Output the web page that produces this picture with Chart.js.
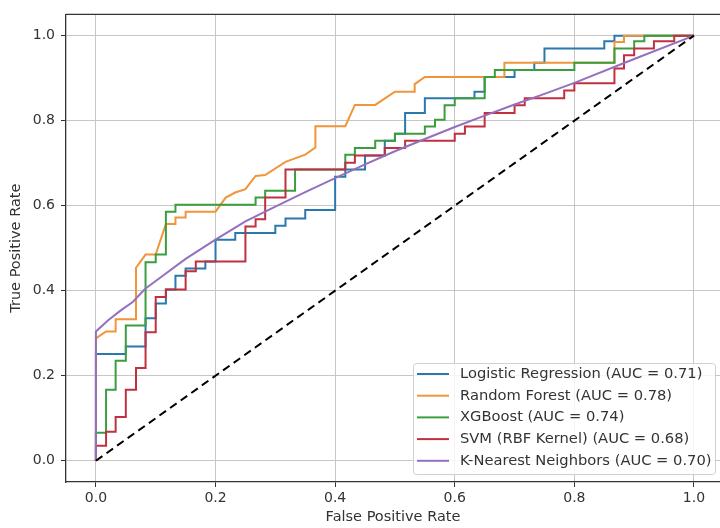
<!DOCTYPE html>
<html>
<head>
<meta charset="utf-8">
<script src="https://cdn.jsdelivr.net/npm/chart.js@4.4.1/dist/chart.umd.min.js"></script>
<style>
  html, body { margin: 0; padding: 0; background: #fff; overflow: hidden; }
  #wrap { width: 720px; height: 528px; }
</style>
</head>
<body>
<div id="wrap"><canvas id="rocChart" width="720" height="528"></canvas></div>
<script>
// Legend names and AUC values
var modelNames = ['Logistic Regression', 'Random Forest', 'XGBoost', 'SVM (RBF Kernel)', 'K-Nearest Neighbors'];
var aucScores = [0.71, 0.78, 0.74, 0.68, 0.70];
var lineColors = ['#2a78ae', '#f0953a', '#3a9e3e', '#c0303f', '#9470be'];

var tickValues = [0, 0.2, 0.4, 0.6, 0.8, 1.0];

// ROC points as [fpr, tpr]
var logRegRoc = [[0,0],[0,0.251],[0.05,0.251],[0.05,0.269],[0.083,0.269],[0.083,0.335],[0.1,0.335],[0.1,0.37],
  [0.117,0.37],[0.117,0.403],[0.133,0.403],[0.133,0.435],[0.15,0.435],[0.15,0.452],[0.183,0.452],[0.183,0.469],
  [0.2,0.469],[0.2,0.52],[0.233,0.52],[0.233,0.536],[0.3,0.536],[0.3,0.553],[0.317,0.553],[0.317,0.57],
  [0.35,0.57],[0.35,0.59],[0.4,0.59],[0.4,0.668],[0.417,0.668],[0.417,0.685],[0.45,0.685],[0.45,0.718],
  [0.483,0.718],[0.483,0.753],[0.5,0.753],[0.5,0.769],[0.517,0.769],[0.517,0.818],[0.55,0.818],[0.55,0.853],
  [0.633,0.853],[0.633,0.868],[0.65,0.868],[0.65,0.903],[0.7,0.903],[0.7,0.919],[0.733,0.919],[0.733,0.936],
  [0.75,0.936],[0.75,0.97],[0.85,0.97],[0.85,0.987],[0.867,0.987],[0.867,1],[1,1]];

var randForestRoc = [[0,0],[0,0.288],[0.017,0.304],[0.033,0.304],[0.033,0.333],[0.067,0.333],[0.067,0.454],
  [0.083,0.485],[0.1,0.485],[0.117,0.557],[0.133,0.557],[0.133,0.572],[0.15,0.572],[0.15,0.586],[0.2,0.586],
  [0.217,0.619],[0.233,0.631],[0.25,0.639],[0.267,0.67],[0.283,0.672],[0.317,0.703],[0.35,0.72],[0.367,0.737],
  [0.367,0.787],[0.417,0.787],[0.433,0.837],[0.467,0.837],[0.5,0.868],[0.533,0.868],[0.533,0.886],[0.55,0.903],
  [0.683,0.903],[0.683,0.936],[0.867,0.936],[0.867,0.985],[0.883,0.985],[0.883,1],[1,1]];

var xgbRoc = [[0,0],[0,0.066],[0.017,0.066],[0.017,0.167],[0.033,0.167],[0.033,0.235],[0.05,0.235],[0.05,0.318],
  [0.083,0.318],[0.083,0.467],[0.1,0.467],[0.1,0.485],[0.117,0.485],[0.117,0.586],[0.133,0.586],[0.133,0.602],
  [0.267,0.602],[0.267,0.619],[0.283,0.619],[0.283,0.635],[0.333,0.635],[0.333,0.685],[0.417,0.685],[0.417,0.72],
  [0.433,0.72],[0.433,0.736],[0.467,0.736],[0.467,0.753],[0.5,0.753],[0.5,0.769],[0.55,0.769],[0.55,0.786],
  [0.567,0.786],[0.567,0.802],[0.583,0.802],[0.583,0.836],[0.6,0.836],[0.6,0.853],[0.65,0.853],[0.65,0.903],
  [0.667,0.903],[0.667,0.919],[0.8,0.919],[0.8,0.936],[0.867,0.936],[0.867,0.97],[0.9,0.97],[0.9,0.987],
  [0.917,0.987],[0.917,1],[1,1]];

var svmRoc = [[0,0],[0,0.035],[0.017,0.035],[0.017,0.068],[0.033,0.068],[0.033,0.103],[0.05,0.103],[0.05,0.167],
  [0.067,0.167],[0.067,0.218],[0.083,0.218],[0.083,0.302],[0.1,0.302],[0.1,0.385],[0.117,0.385],[0.117,0.403],
  [0.15,0.403],[0.15,0.446],[0.167,0.446],[0.167,0.469],[0.25,0.469],[0.25,0.551],[0.267,0.551],[0.267,0.568],
  [0.283,0.568],[0.283,0.619],[0.317,0.619],[0.317,0.685],[0.417,0.685],[0.417,0.701],[0.433,0.701],[0.433,0.718],
  [0.483,0.718],[0.483,0.736],[0.517,0.736],[0.517,0.753],[0.6,0.753],[0.6,0.769],[0.617,0.769],[0.617,0.786],
  [0.65,0.786],[0.65,0.818],[0.7,0.818],[0.7,0.836],[0.717,0.836],[0.717,0.853],[0.783,0.853],[0.783,0.871],
  [0.8,0.871],[0.8,0.888],[0.867,0.888],[0.867,0.923],[0.883,0.923],[0.883,0.954],[0.9,0.954],[0.9,0.97],
  [0.933,0.97],[0.933,0.987],[0.967,0.987],[0.967,1],[1,1]];

var knnRoc = [[0,0],[0,0.304],[0.02,0.33],[0.04,0.352],[0.062,0.374],[0.082,0.404],[0.1,0.423],[0.15,0.475],
  [0.2,0.52],[0.25,0.563],[0.3,0.598],[0.35,0.632],[0.4,0.665],[0.45,0.697],[0.5,0.728],[0.55,0.757],
  [0.6,0.785],[0.65,0.812],[0.7,0.838],[0.75,0.863],[0.8,0.889],[0.9,0.945],[1,1]];

var chanceRoc = [[0,0],[1,1]];

var allCurves = [logRegRoc, randForestRoc, xgbRoc, svmRoc, knnRoc];

function toPoints(arr) {
  return arr.map(function(p) { return { x: p[0], y: p[1] }; });
}

var fontFamily = "'DejaVu Sans', 'Liberation Sans', sans-serif";
var textColor = '#333333';

// Build the datasets (later matplotlib lines sit on top, so order counts down)
var datasets = allCurves.map(function(curve, i) {
  return {
    label: modelNames[i] + ' (AUC = ' + aucScores[i].toFixed(2) + ')',
    data: toPoints(curve),
    borderColor: lineColors[i],
    backgroundColor: lineColors[i],
    borderWidth: 2,
    pointRadius: 0,
    tension: 0,
    fill: false,
    order: 10 - i
  };
});
datasets.push({
  label: 'chance',
  data: toPoints(chanceRoc),
  borderColor: '#000000',
  borderWidth: 2,
  borderDash: [8, 5],
  pointRadius: 0,
  tension: 0,
  fill: false,
  order: 0
});

// Top spine and in-plot legend box
var framePlugin = {
  id: 'frameAndLegend',
  afterDatasetsDraw: function(chart) {
    var ctx = chart.ctx;
    var area = chart.chartArea;
    ctx.save();
    ctx.strokeStyle = textColor;
    ctx.lineWidth = 1.3;
    ctx.beginPath();
    ctx.moveTo(area.left, area.top);
    ctx.lineTo(area.right, area.top);
    ctx.stroke();

    // legend box in the lower right corner
    var boxW = 302, boxH = 111;
    var boxX = area.right - 5 - boxW;
    var boxY = area.bottom - 8 - boxH;
    ctx.fillStyle = 'rgba(255,255,255,0.8)';
    ctx.strokeStyle = '#d0d0d0';
    ctx.lineWidth = 1;
    ctx.beginPath();
    if (ctx.roundRect) ctx.roundRect(boxX + 0.5, boxY + 0.5, boxW, boxH, 3);
    else ctx.rect(boxX + 0.5, boxY + 0.5, boxW, boxH);
    ctx.fill();
    ctx.stroke();

    ctx.font = '14.7px ' + fontFamily;
    ctx.textBaseline = 'middle';
    ctx.textAlign = 'left';
    for (var i = 0; i < modelNames.length; i++) {
      var rowY = boxY + 11 + i * 21.7;
      ctx.strokeStyle = lineColors[i];
      ctx.lineWidth = 2;
      ctx.beginPath();
      ctx.moveTo(boxX + 4, rowY);
      ctx.lineTo(boxX + 36, rowY);
      ctx.stroke();
      ctx.fillStyle = textColor;
      ctx.fillText(datasets[i].label, boxX + 47, rowY);
    }
    ctx.restore();
  }
};

function fixedTicks(scale) {
  scale.ticks = tickValues.map(function(v) { return { value: v }; });
}

var ctx = document.getElementById('rocChart').getContext('2d');
var rocChart = new Chart(ctx, {
  type: 'line',
  data: { datasets: datasets },
  options: {
    responsive: false,
    animation: false,
    devicePixelRatio: 1,
    layout: { padding: { top: 10, right: 0, left: 0, bottom: 0 } },
    plugins: {
      legend: { display: false },
      tooltip: { enabled: false }
    },
    scales: {
      x: {
        type: 'linear',
        min: -0.05,
        max: 1.0435,
        afterBuildTicks: fixedTicks,
        afterFit: function(s) { s.height = 46; },
        grid: { color: '#c6c6c6', lineWidth: 1, tickLength: 5, tickColor: textColor },
        border: { color: textColor, width: 1.3 },
        ticks: {
          color: textColor,
          font: { family: fontFamily, size: 14 },
          padding: 3,
          maxRotation: 0,
          autoSkip: false,
          callback: function(v) { return Number(v).toFixed(1); }
        },
        title: {
          display: true,
          text: 'False Positive Rate',
          color: textColor,
          font: { family: fontFamily, size: 14.5 },
          padding: { top: 0, bottom: 2 }
        }
      },
      y: {
        type: 'linear',
        min: -0.05,
        max: 1.05,
        afterBuildTicks: fixedTicks,
        afterFit: function(s) { s.width = 66; },
        grid: { color: '#c6c6c6', lineWidth: 1, tickLength: 5, tickColor: textColor },
        border: { color: textColor, width: 1.3 },
        ticks: {
          color: textColor,
          font: { family: fontFamily, size: 14 },
          padding: 6,
          autoSkip: false,
          callback: function(v) { return Number(v).toFixed(1); }
        },
        title: {
          display: true,
          text: 'True Positive Rate',
          color: textColor,
          font: { family: fontFamily, size: 14.5 },
          padding: { top: 8, bottom: 0 }
        }
      }
    }
  },
  plugins: [framePlugin]
});
</script>
</body>
</html>
